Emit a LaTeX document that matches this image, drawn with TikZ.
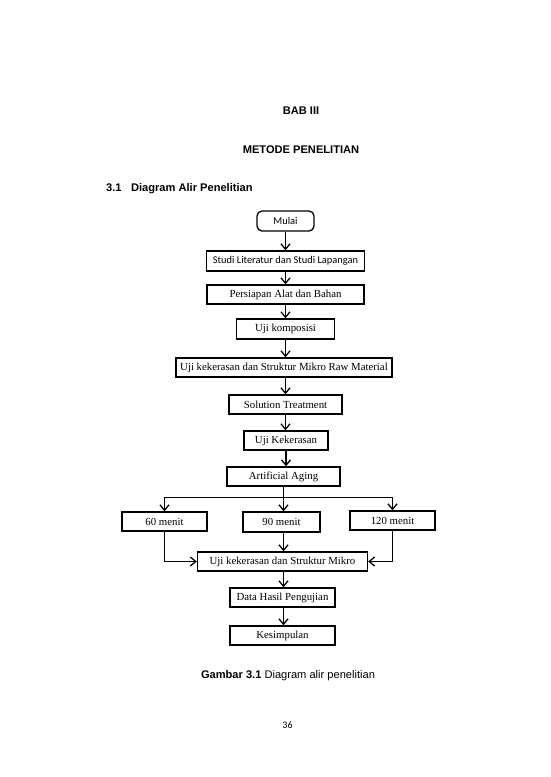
\documentclass[tikz,border=0pt]{standalone}
\usepackage{fontspec}
\setmainfont{Liberation Serif}
\newfontfamily\arialf{Liberation Sans}
\newfontfamily\calf{Carlito}
\usetikzlibrary{arrows.meta}
\tikzset{
  box/.style={draw, line width=1.3pt, inner sep=0pt, align=center,
    font=\fontsize{10.8}{12}\selectfont},
  cbox/.style={box, font=\calf\fontsize{10.4}{12}\selectfont},
  arr/.style={line width=1.3pt, -{Straight Barb[length=5.5pt,width=9pt,line width=1.3pt]}},
  ln/.style={line width=1.3pt},
  head/.style={font=\arialf\bfseries\fontsize{11.1}{13}\selectfont, inner sep=0pt},
}
\begin{document}
\begin{tikzpicture}[x=1pt,y=-1pt]
\useasboundingbox[fill=white] (0,0) rectangle (550,777);
% headings
\node[head] (bab) at (301,111) {BAB III};
\node[head] (metode) at (301,150) {METODE PENELITIAN};
\node[head, anchor=west] (sub) at (106,189) {3.1\hspace{9.5pt}Diagram Alir Penelitian};
% boxes
\node[cbox, rounded corners=5pt, minimum width=57pt, minimum height=20pt] (mulai) at (285.5,221) {Mulai};
\node[cbox, minimum width=158pt, minimum height=20pt] (studi) at (285.5,261) {Studi Literatur dan Studi Lapangan};
\node[box, minimum width=157pt, minimum height=19pt] (persiapan) at (285.5,294.5) {Persiapan Alat dan Bahan};
\node[box, minimum width=98pt, minimum height=20pt] (komposisi) at (285.5,329) {Uji komposisi};
\node[box, minimum width=216pt, minimum height=19pt] (raw) at (284,367.5) {Uji kekerasan dan Struktur Mikro Raw Material};
\node[box, minimum width=113pt, minimum height=19pt] (solution) at (285.5,404.5) {Solution Treatment};
\node[box, minimum width=84pt, minimum height=19pt] (ujik) at (286,440.5) {Uji Kekerasan};
\node[box, minimum width=113pt, minimum height=19pt] (aging) at (283.5,476.5) {Artificial Aging};
\coordinate (br) at (283.5,497.5);
\node[box, minimum width=85pt, minimum height=19pt] (m60) at (164.5,521.5) {60 menit};
\node[box, minimum width=77pt, minimum height=20pt] (m90) at (281.5,522) {90 menit};
\node[box, minimum width=85pt, minimum height=19pt] (m120) at (392.5,520.5) {120 menit};
\node[box, minimum width=170pt, minimum height=19pt] (struktur) at (282.5,561.5) {Uji kekerasan dan Struktur Mikro};
\node[box, minimum width=105pt, minimum height=19pt] (data) at (282.5,597.5) {Data Hasil Pengujian};
\node[box, minimum width=105pt, minimum height=19pt] (kesimpulan) at (282.5,635.5) {Kesimpulan};
% connectors
\draw[arr] (mulai) -- (studi);
\draw[arr] (studi) -- (persiapan);
\draw[arr] (persiapan) -- (komposisi);
\draw[arr] (komposisi.south) -- (komposisi.south |- raw.north);
\draw[arr] (komposisi.south |- raw.south) -- (komposisi.south |- solution.north);
\draw[arr] (solution.south) -- (solution.south |- ujik.north);
\draw[arr] (ujik.south) -- (ujik.south |- aging.north);
\draw[ln] (aging.south) -- (br);
\draw[arr] (br) -| (m60.north);
\draw[arr] (br) -| (m120.north);
\draw[arr] (br) -- (br |- m90.north);
\draw[arr] (m60.south) |- (struktur.west);
\draw[arr] (m120.south) |- (struktur.east);
\draw[arr] (br |- m90.south) -- (br |- struktur.north);
\draw[arr] (br |- struktur.south) -- (br |- data.north);
\draw[arr] (br |- data.south) -- (br |- kesimpulan.north);
% caption and page number
\node[inner sep=0pt, font=\arialf\fontsize{11.1}{13}\selectfont] (cap) at (288,676) {\textbf{Gambar 3.1} Diagram alir penelitian};
\node[inner sep=0pt, font=\calf\fontsize{10}{12}\selectfont] (page) at (287.5,725) {36};
\end{tikzpicture}
\end{document}
